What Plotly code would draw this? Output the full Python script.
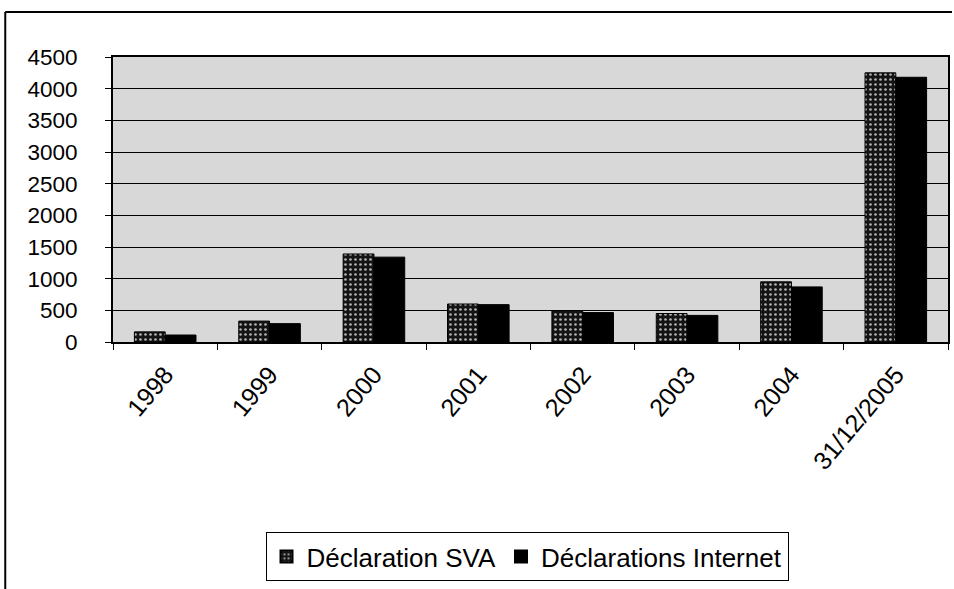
import plotly.graph_objects as go

# Category labels and yearly counts for the two declaration channels
categories = ["1998", "1999", "2000", "2001", "2002", "2003", "2004", "31/12/2005"]
sva_values = [160, 330, 1390, 600, 495, 450, 950, 4250]
internet_values = [110, 290, 1340, 590, 465, 420, 870, 4180]
y_ticks = [0, 500, 1000, 1500, 2000, 2500, 3000, 3500, 4000, 4500]

W, H = 954, 589
L, R, T, B = 113, 4, 57, 247
FONT = "Liberation Sans, Arial, sans-serif"

fig = go.Figure()
fig.add_trace(go.Bar(
    name="Déclaration SVA",
    x=categories,
    y=sva_values,
    marker=dict(
        color="#141414",
        line=dict(color="black", width=1),
        pattern=dict(shape=".", fillmode="replace", bgcolor="#141414",
                     fgcolor="#b4b4b4", size=5, solidity=0.22),
    ),
))
fig.add_trace(go.Bar(
    name="Déclarations Internet",
    x=categories,
    y=internet_values,
    marker=dict(color="#000000", line=dict(color="black", width=1)),
))

# chart-area frame (top and left edges)
pw = W - L - R
ph = H - T - B
def px_x(px):
    return (px - L) / pw
def px_y(py):
    return (H - B - py) / ph

fig.add_shape(type="line", xref="paper", yref="paper",
              x0=px_x(5), x1=px_x(954), y0=px_y(12), y1=px_y(12),
              line=dict(color="black", width=2))
fig.add_shape(type="line", xref="paper", yref="paper",
              x0=px_x(5), x1=px_x(5), y0=px_y(12), y1=px_y(589),
              line=dict(color="black", width=2))

fig.update_layout(
    width=W, height=H,
    margin=dict(l=L, r=R, t=T, b=B),
    paper_bgcolor="white",
    plot_bgcolor="#d8d8d8",
    barmode="group",
    bargap=0.41,
    bargroupgap=0,
    font=dict(family=FONT, color="black"),
    showlegend=True,
    legend=dict(
        orientation="h",
        x=px_x(528), xanchor="center",
        y=px_y(532), yanchor="top",
        bordercolor="black", borderwidth=1,
        bgcolor="white",
        font=dict(family=FONT, size=26, color="black"),
        itemsizing="constant",
        traceorder="normal",
    ),
    xaxis=dict(
        type="category",
        tickangle=-50,
        tickfont=dict(family=FONT, size=25, color="black"),
        showline=True, linecolor="black", linewidth=2, mirror=True,
        ticks="outside", tickson="boundaries", ticklen=6, tickcolor="black",
        ticklabelstandoff=6,
        showgrid=False,
    ),
    yaxis=dict(
        range=[0, 4500],
        tickvals=y_ticks,
        tickfont=dict(family=FONT, size=22.5, color="black"),
        showline=True, linecolor="black", linewidth=2, mirror=True,
        ticks="outside", ticklen=6, tickcolor="black",
        ticklabelstandoff=23,
        showgrid=True, gridcolor="black", gridwidth=1.2,
        zeroline=False,
    ),
)

fig.write_html("out.html")
